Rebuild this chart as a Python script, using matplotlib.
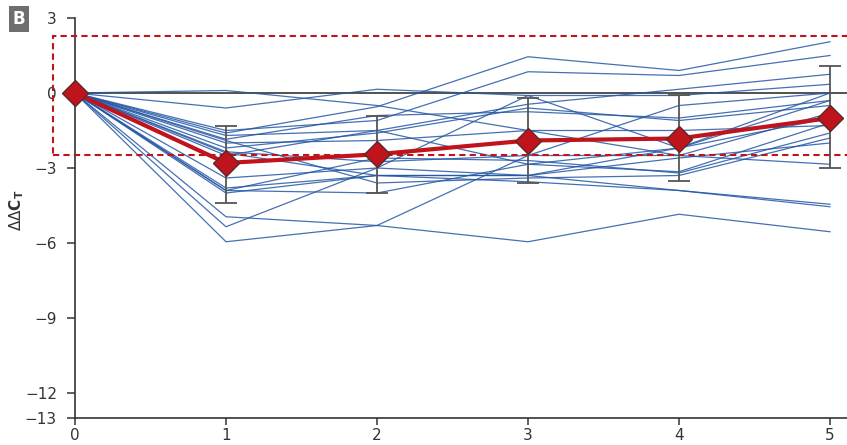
import matplotlib.pyplot as plt
from matplotlib.patches import Rectangle

# --- data ---
timepoints = [0, 1, 2, 3, 4, 5]

# individual samples (delta delta Ct), all start at 0
samples = [
    [0, 0.1, -0.5, -1.5, -1.5, -1.3],
    [0, -0.6, 0.15, -0.1, -0.1, 0.35],
    [0, -1.5, -1.1, 0.85, 0.7, 1.5],
    [0, -1.6, -0.55, 1.45, 0.9, 2.05],
    [0, -1.7, -1.5, -0.45, 0.15, 0.75],
    [0, -1.85, -0.9, -0.75, -1.0, -0.3],
    [0, -2.0, -1.9, -1.5, -2.5, -0.8],
    [0, -2.35, -2.75, -2.5, -0.5, 0.0],
    [0, -2.5, -1.5, -2.85, -3.15, -1.2],
    [0, -3.4, -3.0, -0.1, -2.2, -1.0],
    [0, -3.8, -3.3, -3.3, -2.6, -2.0],
    [0, -3.9, -4.0, -2.85, -2.2, -0.3],
    [0, -4.0, -3.3, -3.55, -3.9, -4.45],
    [0, -4.95, -5.3, -5.95, -4.85, -5.55],
    [0, -5.35, -3.0, -3.3, -3.9, -4.55],
    [0, -5.95, -5.3, -2.5, -2.5, -2.85],
    [0, -2.4, -3.3, -3.3, -2.2, 0.0],
    [0, -2.2, -1.6, -0.6, -1.1, -0.5],
    [0, -3.9, -2.6, -2.7, -3.2, -1.6],
    [0, -1.9, -3.6, -3.4, -3.3, -1.8],
]

mean_vals = [0, -2.8, -2.45, -1.9, -1.82, -1.0]
err_low = [None, -4.4, -4.0, -3.6, -3.5, -3.0]
err_high = [None, -1.3, -0.92, -0.2, -0.08, 1.1]

yticks = [3, 0, -3, -6, -9, -12, -13]
band_low, band_high = -2.48, 2.28

RED = "#c0141c"
BLUE = "#2457a5"
GREY = "#333333"

fig = plt.figure(figsize=(8.47, 4.45), dpi=100)
ax = fig.add_axes([75 / 847, 27 / 445, 772 / 847, 400 / 445])
ax.set_xlim(0, 772 / 151)
ax.set_ylim(-13, 3)

# individual samples
for s in samples:
    ax.plot(timepoints, s, color=BLUE, lw=0.9, alpha=0.85, zorder=2)

# zero line
ax.axhline(0, color="#222222", lw=1.1, zorder=1)

# dashed band
rect = Rectangle((-0.146, band_low), 6, band_high - band_low, fill=False,
                 ls=(0, (3, 2)), lw=1.5, ec=RED, clip_on=False, zorder=3)
ax.add_patch(rect)

# error bars
for x, lo, hi, m in zip(timepoints, err_low, err_high, mean_vals):
    if lo is None:
        continue
    ax.errorbar([x], [m], yerr=[[m - lo], [hi - m]], fmt="none",
                ecolor="#555555", elinewidth=1.3, capsize=8, capthick=1.3,
                zorder=4)

# mean line
ax.plot(timepoints, mean_vals, color=RED, lw=3, marker="D", markersize=13,
        markerfacecolor=RED, markeredgecolor="#5a2a2a", markeredgewidth=1,
        zorder=5, clip_on=False)

ax.spines["top"].set_visible(False)
ax.spines["right"].set_visible(False)
for sp in ["left", "bottom"]:
    ax.spines[sp].set_color("#333333")
    ax.spines[sp].set_linewidth(1.2)

ax.set_yticks(yticks)
ax.set_yticklabels([str(t).replace("-", "\u2212") for t in yticks])
ax.set_xticks(timepoints)
ax.tick_params(axis="both", length=5, width=1.1, color="#333333",
               labelsize=11, labelcolor=GREY, pad=2)
ax.tick_params(axis="y", length=6, pad=7)

ax.set_ylabel(r"$\Delta\Delta$C$_\mathregular{T}$", fontsize=11,
              fontweight="bold", color=GREY)
ax.yaxis.set_label_coords(-0.064, 0.52)

# panel label
fig.text(19 / 847, 1 - 19 / 445, "B", color="white", fontsize=12,
         fontweight="bold", ha="center", va="center",
         bbox=dict(boxstyle="square,pad=0.25", fc="#6e6e6e", ec="none"))

plt.savefig("out.png", dpi=100)
